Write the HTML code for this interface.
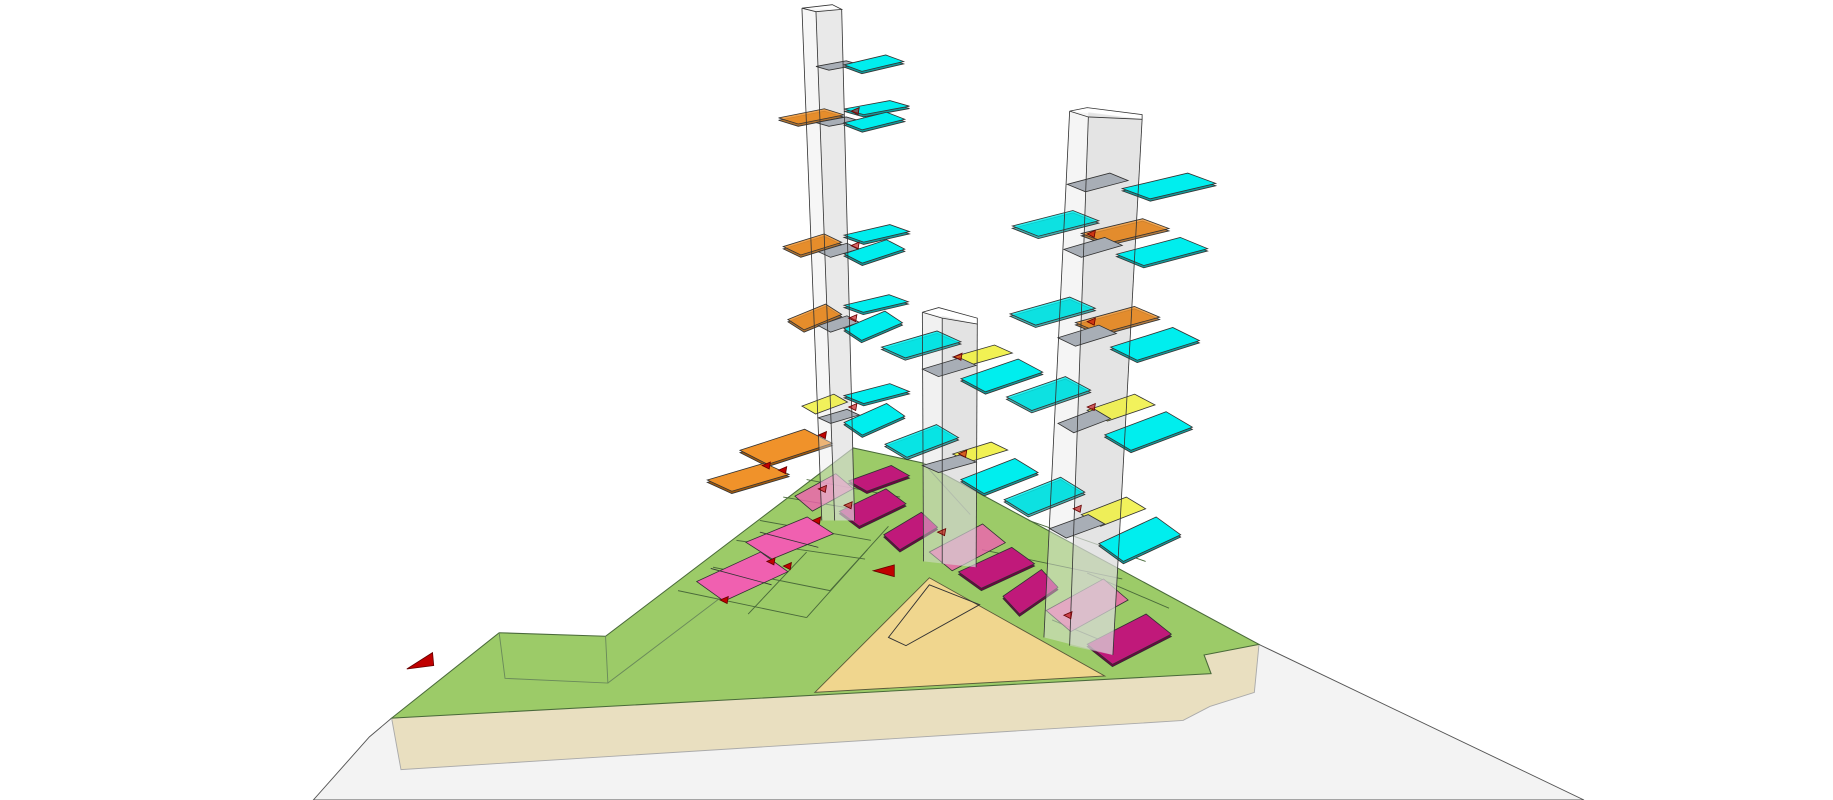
<!DOCTYPE html>
<html><head><meta charset="utf-8"><style>html,body{margin:0;padding:0;background:#fff}svg{display:block}</style></head>
<body>
<svg id="s" width="1833" height="800" viewBox="0 0 1568 684" preserveAspectRatio="none" xmlns="http://www.w3.org/2000/svg">
<polygon points="268,684 316,630 335,614 1077,551 1355,684" fill="#f3f3f3" stroke="#555" stroke-width="0.8"/>
<polygon points="335,614 1077,551 1073,592 1035,604 1012,616 343,658" fill="#e9dfc0" stroke="#aaa" stroke-width="0.8"/>
<polygon points="335,614 427,541 518,544 730,383 790,396 1077,551 1030,560 1036,576" fill="#9ccb68" stroke="#4a6a3a" stroke-width="0.9"/>
<polyline points="427,541 432,580 520,584 518,544" fill="none" stroke="#6a8a5a" stroke-width="0.8"/>
<polygon points="697,592 795,494 945,578" fill="#f0d68e" stroke="#5a5a3a" stroke-width="0.8"/>
<polygon points="795,500 760,545 775,552 838,517" fill="none" stroke="#333" stroke-width="0.8"/>
<line x1="520" y1="584" x2="697" y2="450" stroke="#6a8a5a" stroke-width="0.8"/>
<line x1="790" y1="396" x2="830" y2="440" stroke="#6a8a5a" stroke-width="0.8"/>
<g id="g"></g>
</svg>
<script>
var g=document.getElementById('g'),NS='http://www.w3.org/2000/svg';
function el(t,a){var e=document.createElementNS(NS,t);for(var k in a)e.setAttribute(k,a[k]);g.appendChild(e);return e;}
function P(pts,fill,op,st){el('polygon',{points:pts.map(function(p){return p.join(',')}).join(' '),fill:fill,'fill-opacity':op||1,stroke:st||'#333','stroke-width':0.7});}
function q(x1,y1,x2,y2,fill,op,dark){var w=x2-x1,h=y2-y1;
 var p=[[x1,y1+.6*h],[x1+.7*w,y1],[x2,y1+.4*h],[x1+.3*w,y2]];
 if(dark)P(p.map(function(a){return [a[0],a[1]+2]}),dark,op);
 P(p,fill,op);}
function tri(x,y,r){P([[x,y],[x+7,y-3],[x+6,y+3]],'#c00000',r?0.6:1,'#600');}
var C='#00eeee',CD='#129a9a',Y='#f0f040',O='#f0922a',OD='#a05a10',M='#c0197a',MD='#700040',K='#f060b0',G='#a8aeb6',S='#f0d68e';
[[580,505,690,528],[610,485,710,505],[630,462,740,478],[650,445,745,462],[670,425,760,440],[690,410,770,425],[840,470,960,495],[880,445,980,480],[930,490,1000,520],[900,530,960,555]].forEach(function(l){el('line',{x1:l[0],y1:l[1],x2:l[2],y2:l[3],stroke:'#4a6a3a','stroke-width':0.8});});
[[690,528,742,470],[710,505,760,450],[640,525,690,472]].forEach(function(l){el('line',{x1:l[0],y1:l[1],x2:l[2],y2:l[3],stroke:'#4a6a3a','stroke-width':0.8});});
q(638,442,713,478,K,1);q(596,472,674,514,K,1);
el('line',{x1:650,y1:455,x2:700,y2:468,stroke:'#333','stroke-width':0.7});el('line',{x1:608,y1:486,x2:660,y2:500,stroke:'#333','stroke-width':0.7});
q(680,405,730,437,K,.8);q(726,398,778,420,M,1,MD);q(718,418,775,450,M,1,MD);
q(756,438,802,470,M,1,MD);q(795,448,860,488,K,.8);q(820,468,885,503,M,1,MD);
q(858,487,905,525,M,1,MD);q(895,495,965,540,K,.8);q(930,525,1002,568,M,1,MD);
q(633,367,712,397,O,1,OD);q(605,396,675,420,O,1,OD);
P([[686,7],[720,8],[731,445],[703,445]],'#e8e8e8',.4,'none');
P([[698,10],[720,8],[731,445],[714,445]],'#d8d8d8',.4,'none');
P([[789,267],[836,277],[835,485],[790,480]],'#e0e0e0',.45,'none');
P([[806,270],[836,277],[835,485],[806,482]],'#d0d0d0',.4,'none');
P([[915,95],[977,102],[952,560],[893,545]],'#e8e8e8',.45,'none');
P([[931,96],[977,102],[952,560],[915,552]],'#d4d4d4',.5,'none');
q(698,52,735,60,G,1);q(722,47,773,61,C,1,CD);
q(666,93,722,106,O,.85,OD);q(698,100,735,108,G,1);q(722,86,778,98,C,1,CD);q(722,96,774,111,C,1,CD);
q(670,200,720,218,O,.85,OD);q(700,208,735,220,G,1);q(722,192,778,207,C,1,CD);q(722,205,774,225,C,1,CD);
q(674,260,720,282,O,.85,OD);q(700,270,735,284,G,1);q(722,252,777,267,C,1,CD);q(722,266,772,291,C,1,CD);
q(686,337,725,354,Y,.85);q(700,350,735,362,G,1);q(722,328,778,345,C,1,CD);q(722,345,774,372,C,1,CD);
q(754,283,822,306,C,.85,CD);q(815,295,866,312,Y,.9);q(789,306,835,322,G,1);q(822,307,892,335,C,1,CD);
q(757,363,820,391,C,.85,CD);q(815,378,862,395,Y,.9);q(789,389,835,404,G,1);q(822,392,888,422,C,1,CD);
q(913,148,965,164,G,1);q(960,148,1040,170,C,1,CD);
q(866,180,940,202,C,.8,CD);q(925,187,1000,208,O,.8,OD);q(910,203,960,220,G,1);q(955,203,1033,227,C,1,CD);
q(864,254,937,278,C,.8,CD);q(920,262,992,285,O,.8,OD);q(905,278,955,296,G,1);q(950,280,1026,308,C,1,CD);
q(861,322,933,351,C,.8,CD);q(930,337,988,360,Y,.85);q(905,350,950,370,G,1);q(945,352,1020,385,C,1,CD);
q(859,408,928,440,C,.8,CD);q(925,425,980,450,Y,.85);q(898,440,945,460,G,1);q(940,442,1010,480,C,1,CD);
function L(a){el('polyline',{points:a.map(function(p){return p.join(',')}).join(' '),fill:'none',stroke:'#333','stroke-width':0.7});}
L([[686,7],[703,445]]);L([[698,10],[714,445]]);L([[720,8],[731,445]]);L([[686,7],[712,4],[720,8],[698,10],[686,7]]);
L([[789,267],[790,480]]);L([[806,272],[806,482]]);L([[836,277],[835,485]]);L([[789,267],[803,263],[836,272],[836,277],[806,272],[789,267]]);
L([[915,95],[893,545]]);L([[931,100],[915,552]]);L([[977,102],[952,560]]);L([[915,95],[930,92],[977,98],[977,102],[931,100],[915,95]]);
P([[348,572],[370,558],[371,569]],'#c00000',1,'#600');P([[747,488],[765,483],[765,493]],'#c00000',1,'#600');
tri(652,398);tri(666,402);tri(616,513);tri(656,480);tri(670,484);tri(700,418,1);tri(695,445);tri(700,372);
[[728,95],[728,210],[726,272],[726,348],[816,305],[820,388],[930,200],[930,275],[930,348],[918,435],[722,432],[910,526],[802,455]].forEach(function(a){tri(a[0],a[1],1);});
</script>
</body></html>
